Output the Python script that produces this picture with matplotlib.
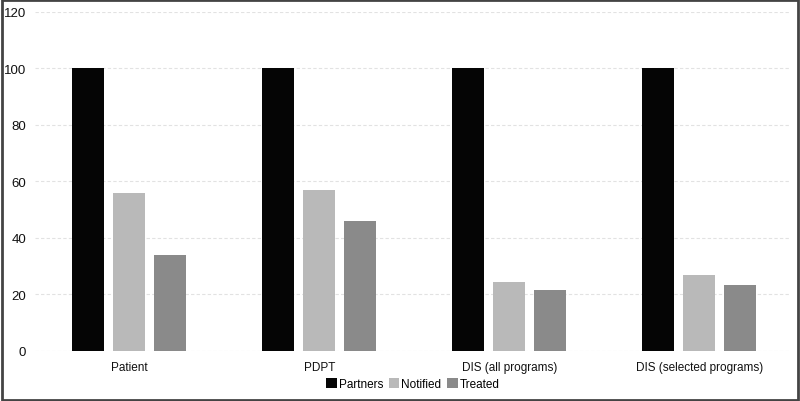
import numpy as np
import matplotlib.pyplot as plt
from matplotlib.patches import Rectangle

plt.rcParams['font.family'] = ['Liberation Sans', 'DejaVu Sans']

categories = ['Patient', 'PDPT', 'DIS (all programs)', 'DIS (selected programs)']
partners = [100, 100, 100, 100]
notified = [56, 57, 24.5, 27]
treated = [34, 46, 21.5, 23.5]

fig = plt.figure(figsize=(8, 4.02), dpi=100)
ax = fig.add_axes([0.044, 0.1244, 0.944, 0.8433])

x = np.arange(len(categories))
w = 0.168
step = 0.216
ax.bar(x - step, partners, w, color='#050505', label='Partners', zorder=3)
ax.bar(x, notified, w, color='#b9b9b9', label='Notified', zorder=3)
ax.bar(x + step, treated, w, color='#8a8a8a', label='Treated', zorder=3)

ax.set_xlim(-0.495, 3.48)
ax.set_ylim(0, 120)
ax.set_yticks(range(0, 121, 20))
ax.yaxis.grid(True, linestyle=(0, (3, 2)), color='#e2e2e2', linewidth=0.8)
ax.set_axisbelow(True)
for s in ax.spines.values():
    s.set_visible(False)
ax.tick_params(length=0, labelsize=9.5, colors='#111111')
ax.tick_params(axis='y', pad=6.5)
ax.set_xticks(x)
ax.set_xticklabels(categories, fontsize=8.5)
ax.tick_params(axis='x', pad=7)

ax.legend(loc='center', bbox_to_anchor=(0.5, -0.097), ncol=3, frameon=False,
          fontsize=8.5, handlelength=0.9, handleheight=0.9, handletextpad=0.15,
          columnspacing=0.5, borderpad=0)

fig.patches.append(Rectangle((0.002, 0.003), 0.996, 0.994, transform=fig.transFigure,
                             fill=False, edgecolor='#444444', linewidth=2))

fig.savefig('out.png', dpi=100)
